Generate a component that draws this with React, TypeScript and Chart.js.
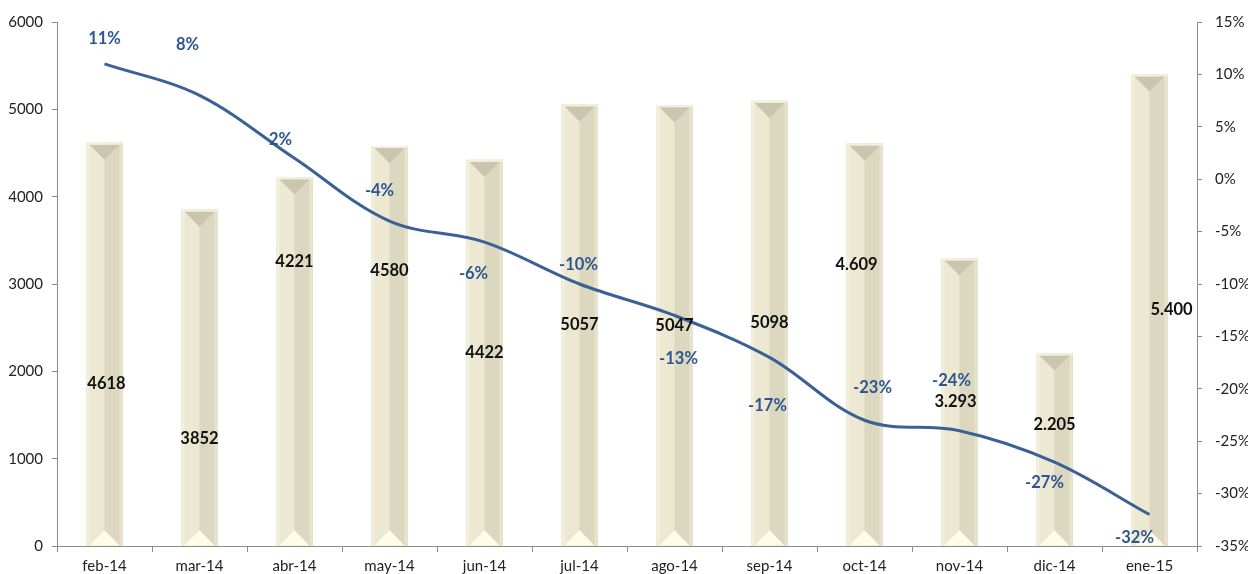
import React, { useEffect, useRef } from "react";
import { Chart, registerables } from "chart.js";

Chart.register(...registerables);

const categories = ["feb-14", "mar-14", "abr-14", "may-14", "jun-14", "jul-14", "ago-14", "sep-14", "oct-14", "nov-14", "dic-14", "ene-15"];
const barValues = [4618, 3852, 4221, 4580, 4422, 5057, 5047, 5098, 4609, 3293, 2205, 5400];
const barLabels = ["4618", "3852", "4221", "4580", "4422", "5057", "5047", "5098", "4.609", "3.293", "2.205", "5.400"];
const pctValues = [11, 8, 2, -4, -6, -10, -13, -17, -23, -24, -27, -32];
const pctLabels = ["11%", "8%", "2%", "-4%", "-6%", "-10%", "-13%", "-17%", "-23%", "-24%", "-27%", "-32%"];

// label placement offsets (pixels) relative to the mark, mimicking the original manual placement
const barLabelOffset = [[2, 40], [0, 61], [0, -100], [0, -75], [0, 0], [0, 0], [0, 0], [0, 0], [-8, -80], [-4, 0], [0, -25], [22, 0]];
const pctLabelOffset = [[0, -25], [-12, -51], [-14, -19], [-10, -30], [-11, 32], [-1, -19], [4, 43], [-2, 48], [8, -33], [-8, -50], [-10, 21], [-15, 23]];

const FONT = "Lato, 'Open Sans', sans-serif";
const LINE_COLOR = "#3B6096";
const PCT_COLOR = "#2D5591";

const bevelPlugin = {
  id: "bevel",
  afterDatasetDraw(chart: any, args: any) {
    if (args.index !== 0) return;
    const ctx = chart.ctx;
    const meta = chart.getDatasetMeta(0);
    ctx.save();
    meta.data.forEach((el: any) => {
      const { x, y, base, width } = el.getProps(["x", "y", "base", "width"], true);
      const l = x - width / 2;
      const r = x + width / 2;
      const t = y;
      const b = base;
      const tri = width * 0.42;
      ctx.fillStyle = "#E8E3CA";
      ctx.fillRect(l, t, width, b - t);
      ctx.fillStyle = "#EDE8D1";
      ctx.fillRect(l, t, width / 2, b - t);
      ctx.fillStyle = "#DCD8BF";
      ctx.fillRect(x, t, width / 2, b - t);
      ctx.fillStyle = "#F3EFDD";
      ctx.fillRect(l, t, 3, b - t);
      ctx.fillStyle = "#E7E3CE";
      ctx.fillRect(r - 3, t, 3, b - t);
      ctx.fillStyle = "#C9C5AE";
      ctx.beginPath();
      ctx.moveTo(l + 3, t + 2);
      ctx.lineTo(r - 3, t + 2);
      ctx.lineTo(x, t + 2 + tri);
      ctx.closePath();
      ctx.fill();
      ctx.fillStyle = "#F4F1E0";
      ctx.fillRect(l, t, width, 2);
      ctx.fillStyle = "#FFFDEA";
      ctx.beginPath();
      ctx.moveTo(l + 3, b);
      ctx.lineTo(r - 3, b);
      ctx.lineTo(x, b - tri);
      ctx.closePath();
      ctx.fill();
    });
    ctx.restore();
  },
};

const labelPlugin = {
  id: "labels",
  afterDatasetsDraw(chart: any) {
    const ctx = chart.ctx;
    ctx.save();
    ctx.textAlign = "center";
    ctx.textBaseline = "middle";
    ctx.font = `bold 16.5px ${FONT}`;
    const bars = chart.getDatasetMeta(0).data;
    bars.forEach((el: any, i: number) => {
      const { x, y, base } = el.getProps(["x", "y", "base"], true);
      const o = barLabelOffset[i];
      ctx.fillStyle = "#111111";
      ctx.fillText(barLabels[i], x + o[0], (y + base) / 2 + o[1]);
    });
    const pts = chart.getDatasetMeta(1).data;
    pts.forEach((el: any, i: number) => {
      const { x, y } = el.getProps(["x", "y"], true);
      const o = pctLabelOffset[i];
      ctx.fillStyle = PCT_COLOR;
      ctx.fillText(pctLabels[i], x + o[0], y + o[1]);
    });
    ctx.restore();
  },
};

export default function App() {
  const ref = useRef<HTMLCanvasElement | null>(null);
  useEffect(() => {
    document.body.style.margin = "0";
    const canvas = ref.current!;
    const chart = new Chart(canvas, {
      type: "bar",
      data: {
        labels: categories,
        datasets: [
          {
            type: "bar",
            data: barValues,
            backgroundColor: "#E8E3CA",
            barPercentage: 0.38,
            categoryPercentage: 1,
            yAxisID: "y",
            order: 1,
          },
          {
            type: "line",
            data: pctValues,
            borderColor: LINE_COLOR,
            borderWidth: 3,
            pointRadius: 0,
            tension: 0.35,
            yAxisID: "y2",
            order: 0,
          } as any,
        ],
      },
      plugins: [bevelPlugin, labelPlugin],
      options: {
        animation: false,
        responsive: false,
        maintainAspectRatio: false,
        layout: { padding: { top: 21, left: 0, right: 0, bottom: 0 } },
        plugins: { legend: { display: false }, tooltip: { enabled: false } },
        scales: {
          x: {
            offset: true,
            grid: { offset: true, drawOnChartArea: false, tickLength: 6, color: "#8C8C8C" },
            border: { color: "#8C8C8C" },
            ticks: { color: "#222", font: { family: FONT, size: 15 }, padding: 5, maxRotation: 0 },
            afterFit: (s: any) => { s.height = 28; },
          },
          y: {
            position: "left",
            min: 0,
            max: 6000,
            ticks: { stepSize: 1000, color: "#222", font: { family: FONT, size: 15 }, padding: 9, callback: (v: any) => String(v) },
            grid: { drawOnChartArea: false, tickLength: 5, color: "#8C8C8C" },
            border: { color: "#8C8C8C" },
            afterFit: (s: any) => { s.width = 57; },
          },
          y2: {
            position: "right",
            min: -35,
            max: 15,
            ticks: { stepSize: 5, color: "#222", font: { family: FONT, size: 15 }, padding: 13, callback: (v: any) => v + "%" },
            grid: { drawOnChartArea: false, tickLength: 5, color: "#8C8C8C" },
            border: { color: "#8C8C8C" },
            afterFit: (s: any) => { s.width = 51; },
          },
        },
      } as any,
    });
    return () => chart.destroy();
  }, []);
  return (
    <div style={{ width: 1248, height: 574 }}>
      <canvas ref={ref} width={1248} height={574} style={{ display: "block" }} />
    </div>
  );
}
